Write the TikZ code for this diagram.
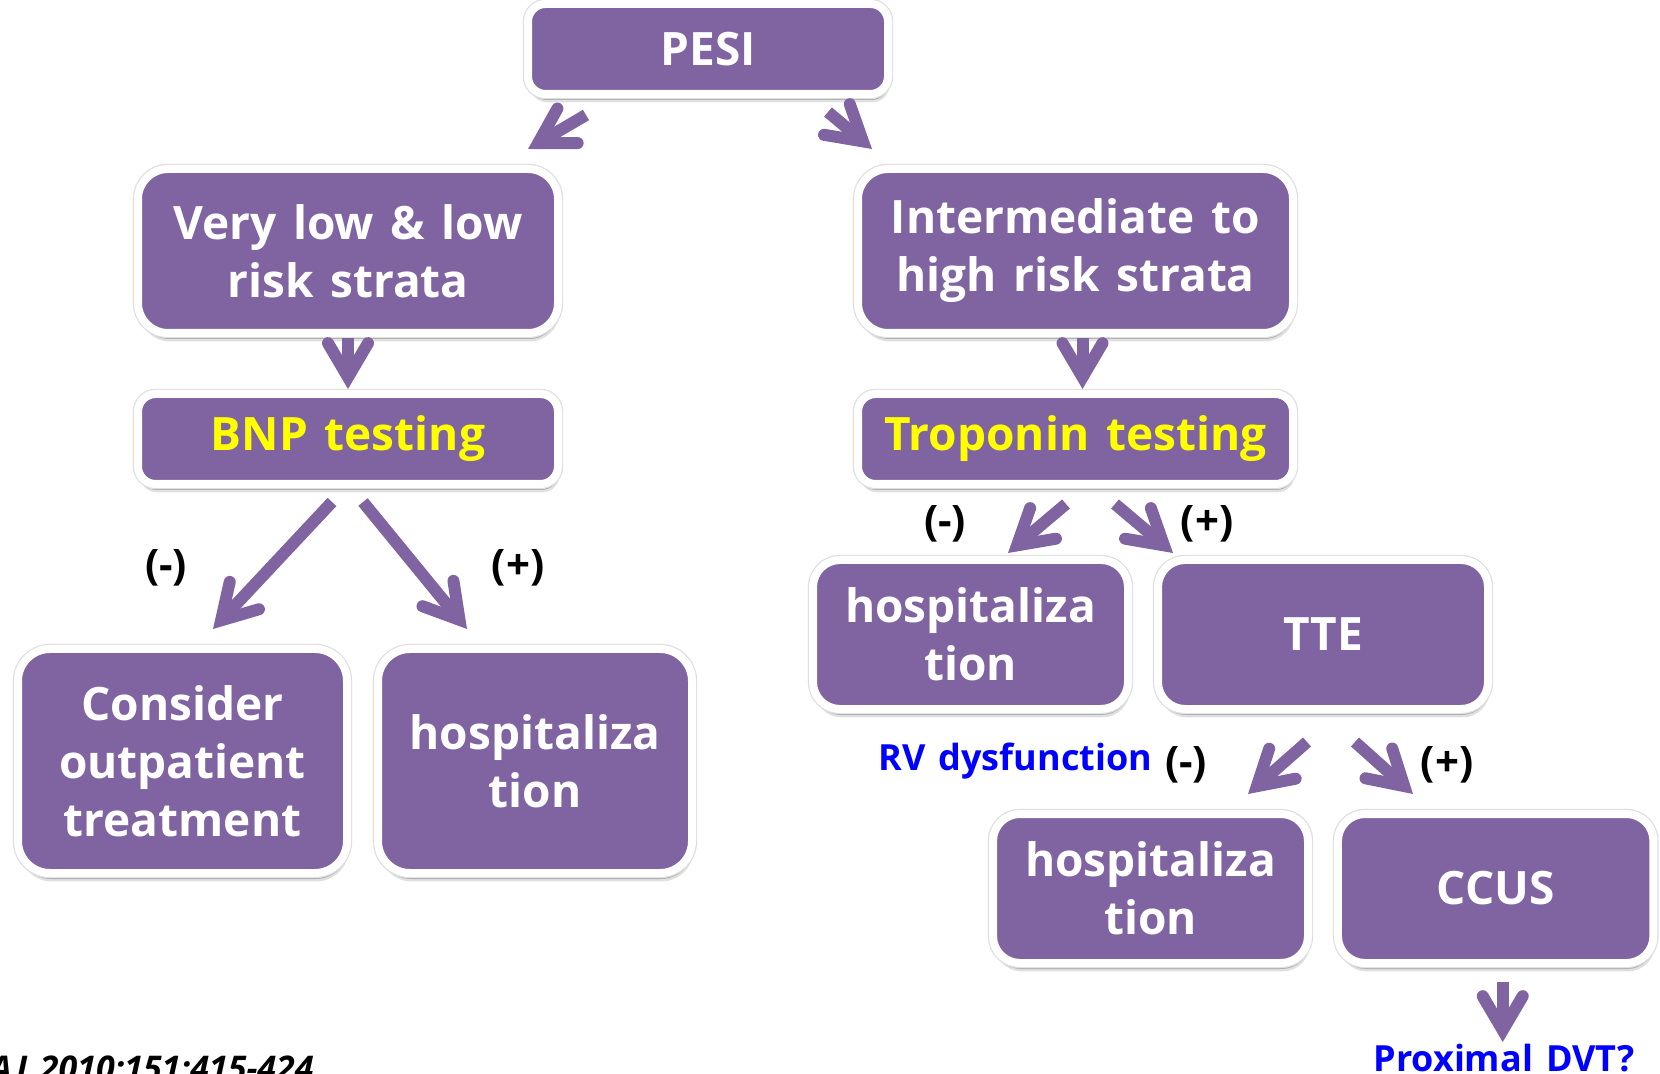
\documentclass[tikz,border=0pt]{standalone}
\usepackage{fontspec}
\setmainfont{Open Sans}[WordSpace=1.4]
\usetikzlibrary{arrows.meta,shadows,calc}
\definecolor{purp}{HTML}{8064A2}
\definecolor{txtblue}{HTML}{0000FF}
\definecolor{txtyellow}{HTML}{FFFF00}
\tikzset{
  box/.style={draw=white, line width=4pt, fill=purp, text=white, align=center,
    inner sep=0pt, font=\bfseries\fontsize{23}{29}\selectfont,
    drop shadow={shadow xshift=0.8pt, shadow yshift=-4.2pt, opacity=0.12, fill=black},
    drop shadow={shadow xshift=0.5pt, shadow yshift=-3pt, opacity=0.22, fill=black},
    preaction={draw=black!13, line width=5.2pt}},
  flowarrow/.style={draw=purp, line width=6pt,
    -{Straight Barb[length=17pt, width=20pt, line cap=round, line join=miter]}},
  sign/.style={inner sep=0pt, font=\bfseries\fontsize{21}{25}\selectfont, text=black},
}
\begin{document}
\begin{tikzpicture}[x=0.5pt, y=-0.5pt]
\useasboundingbox (0,0) rectangle (1660,1074);
\clip (0,0) rectangle (1660,1074);
\fill[white] (0,0) rectangle (1660,1074);

% boxes
\node[box, minimum width=180pt, minimum height=45pt, rounded corners=8.8pt] (pesi) at (708,49) {PESI};
\node[box, minimum width=210pt, minimum height=82pt, rounded corners=15pt] (vlow) at (348,251) {Very low \& low\\risk strata};
\node[box, minimum width=217.5pt, minimum height=82pt, rounded corners=15pt] (inter) at (1075.5,251) {Intermediate to\\high risk strata};
\node[box, minimum width=210pt, minimum height=45pt, rounded corners=8.8pt, text=txtyellow] (bnp) at (348,439) {BNP testing};
\node[box, minimum width=217.5pt, minimum height=45pt, rounded corners=8.8pt, text=txtyellow] (trop) at (1075.5,439) {Troponin testing};
\node[box, minimum width=164.5pt, minimum height=112pt, rounded corners=16pt] (cons) at (182.5,761) {Consider\\outpatient\\treatment};
\node[box, minimum width=157pt, minimum height=112pt, rounded corners=16pt] (hospL) at (535,761) {hospitaliza\\tion};
\node[box, minimum width=157.5pt, minimum height=74.5pt, rounded corners=13.5pt] (hospM) at (970.5,634.5) {hospitaliza\\tion};
\node[box, minimum width=165pt, minimum height=74.5pt, rounded corners=13.5pt] (tte) at (1323,634.5) {TTE};
\node[box, minimum width=157.5pt, minimum height=74.5pt, rounded corners=13.5pt] (hospB) at (1150.5,888.5) {hospitaliza\\tion};
\node[box, minimum width=157.75pt, minimum height=74.5pt, rounded corners=13.5pt] (ccus) at (1495.7,888.5) {CCUS};

% labels
\node[sign] (lm1) at (166,568) {(-)};
\node[sign] (lp1) at (518,568) {(+)};
\node[sign] (lm2) at (945,524) {(-)};
\node[sign] (lp2) at (1207,524) {(+)};
\node[sign] (lm3) at (1186,765) {(-)};
\node[sign] (lp3) at (1447,765) {(+)};
\node[anchor=base west, inner sep=0pt, text=txtblue, font=\bfseries\fontsize{18}{22}\selectfont] (rv) at (878,770) {RV dysfunction};
\node[anchor=base west, inner sep=0pt, text=txtblue, font=\bfseries\fontsize{18}{22}\selectfont] (prox) at (1373,1071) {Proximal DVT?};
\node[anchor=base east, inner sep=0pt, text=black, font=\bfseries\itshape\fontsize{17}{21}\selectfont] (cite) at (314,1080) {AJ 2010;151:415-424};

% connectors
\draw[flowarrow] ($(pesi.south)+(-122,17)$) -- ($(vlow.north)+(180,-16)$);
\draw[flowarrow] ($(pesi.south)+(120,14)$) -- ($(inter.north)+(-203.5,-16)$);
\draw[flowarrow] ($(vlow.south)+(0,1)$) -- ($(bnp.north)+(0,-1)$);
\draw[flowarrow] ($(inter.south)+(7,1)$) -- ($(trop.north)+(7,-1)$);
\draw[flowarrow] ($(bnp.south)+(-16,14)$) -- ($(cons.north)+(30.5,-16)$);
\draw[flowarrow] ($(bnp.south)+(15,14)$) -- ($(hospL.north)+(-68,-16)$);
\draw[flowarrow] ($(trop.south)+(-9.5,16)$) -- ($(hospM.north)+(37.5,-3)$);
\draw[flowarrow] ($(trop.south)+(39.5,16)$) -- ($(tte.north)+(-150,-3)$);
\draw[flowarrow] ($(tte.south)+(-16,29)$) -- ($(hospB.north)+(97.5,-16)$);
\draw[flowarrow] ($(tte.south)+(32,29)$) -- ($(ccus.north)+(-82.7,-16)$);
\draw[flowarrow] ($(ccus.south)+(7,15)$) -- ($(ccus.south)+(7,75)$);
\end{tikzpicture}
\end{document}
